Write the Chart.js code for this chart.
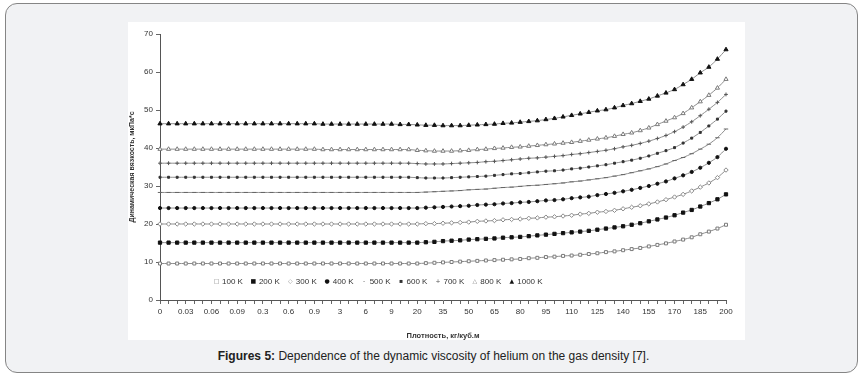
<!DOCTYPE html>
<html>
<head>
<meta charset="utf-8">
<script src="https://cdn.jsdelivr.net/npm/chart.js@4.4.1/dist/chart.umd.min.js"></script>
<style>
    body {
        margin: 0;
        width: 867px;
        height: 380px;
        background: #fff;
        overflow: hidden;
        font-family: "Liberation Sans", Arial, sans-serif;
    }
    .frame {
        position: absolute;
        left: 5px;
        top: 3px;
        width: 853px;
        height: 370px;
        box-sizing: border-box;
        border: 1.5px solid #858585;
        border-radius: 12px;
        background: #f1f2f4;
    }
    .panel {
        position: absolute;
        left: 128px;
        top: 22px;
        width: 617px;
        height: 318px;
        background: #fff;
    }
    #mainChart {
        display: block;
    }
    .legend {
        position: absolute;
        left: 85px;
        top: 255px;
        display: flex;
        gap: 7px;
        font-size: 8px;
        color: #333;
        white-space: nowrap;
    }
    .legend span.mark {
        display: inline-block;
        width: 7px;
        font-size: 6px;
        text-align: center;
        margin-right: 2px;
        vertical-align: 1px;
        font-family: "DejaVu Sans", sans-serif;
    }
    .caption {
        position: absolute;
        left: 0;
        top: 349px;
        width: 867px;
        text-align: center;
        font-size: 12px;
        color: #222;
    }
</style>
</head>
<body>
<div class="frame"></div>
<div class="panel">
    <canvas id="mainChart" width="617" height="318"></canvas>
    <div class="legend" id="legend"></div>
</div>
<div class="caption"><b>Figures 5:</b> Dependence of the dynamic viscosity of helium on the gas density [7].</div>

<script>
// Density categories, kg/m3
const densities = [
    0, 0.01, 0.02, 0.03, 0.04, 0.05, 0.06, 0.07, 0.08, 0.09,
    0.1, 0.2, 0.3, 0.4, 0.5, 0.6, 0.7, 0.8, 0.9,
    1, 2, 3, 4, 5, 6, 7, 8, 9,
    10, 15, 20, 25, 30, 35, 40, 45, 50, 55, 60, 65, 70, 75, 80, 85, 90, 95,
    100, 105, 110, 115, 120, 125, 130, 135, 140, 145, 150, 155, 160, 165, 170,
    175, 180, 185, 190, 195, 200
];

const yTicks = [0, 10, 20, 30, 40, 50, 60, 70];

const seriesNames = ['100 K', '200 K', '300 K', '400 K', '500 K', '600 K', '700 K', '800 K', '1000 K'];

// Viscosity, values
const visc100 = [
    9.6, 9.6, 9.6, 9.6, 9.6, 9.6, 9.6, 9.6, 9.6, 9.6,
    9.6, 9.6, 9.6, 9.6, 9.6, 9.6, 9.6, 9.6, 9.6, 9.6,
    9.6, 9.6, 9.6, 9.6, 9.6, 9.6, 9.6, 9.6, 9.6, 9.6,
    9.6, 9.7, 9.8, 9.9, 10.0, 10.1, 10.2, 10.3, 10.4, 10.5,
    10.6, 10.7, 10.8, 11.0, 11.1, 11.3, 11.4, 11.6, 11.7, 11.9,
    12.1, 12.3, 12.6, 12.8, 13.1, 13.4, 13.7, 14.1, 14.5, 14.9,
    15.4, 15.9, 16.5, 17.3, 18.0, 18.8, 19.8
];
const visc200 = [
    15.1, 15.1, 15.1, 15.1, 15.1, 15.1, 15.1, 15.1, 15.1, 15.1,
    15.1, 15.1, 15.1, 15.1, 15.1, 15.1, 15.1, 15.1, 15.1, 15.1,
    15.1, 15.1, 15.1, 15.1, 15.1, 15.1, 15.1, 15.1, 15.1, 15.1,
    15.1, 15.2, 15.3, 15.5, 15.6, 15.7, 15.9, 16.0, 16.1, 16.2,
    16.4, 16.5, 16.6, 16.8, 17.0, 17.2, 17.4, 17.6, 17.8, 18.0,
    18.2, 18.5, 18.8, 19.1, 19.4, 19.8, 20.2, 20.7, 21.2, 21.7,
    22.3, 23.0, 23.7, 24.6, 25.5, 26.5, 27.8
];
const visc300 = [
    20.0, 20.0, 20.0, 20.0, 20.0, 20.0, 20.0, 20.0, 20.0, 20.0,
    20.0, 20.0, 20.0, 20.0, 20.0, 20.0, 20.0, 20.0, 20.0, 20.0,
    20.0, 20.0, 20.0, 20.0, 20.0, 20.0, 20.0, 20.0, 20.0, 20.0,
    20.0, 20.1, 20.1, 20.2, 20.3, 20.4, 20.5, 20.7, 20.8, 20.9,
    21.1, 21.2, 21.3, 21.5, 21.6, 21.8, 21.9, 22.1, 22.3, 22.6,
    22.8, 23.1, 23.3, 23.6, 24.0, 24.4, 24.8, 25.3, 25.8, 26.4,
    27.1, 27.8, 28.7, 29.7, 30.8, 32.2, 34.2
];
const visc400 = [
    24.2, 24.2, 24.2, 24.2, 24.2, 24.2, 24.2, 24.2, 24.2, 24.2,
    24.2, 24.2, 24.2, 24.2, 24.2, 24.2, 24.2, 24.2, 24.2, 24.2,
    24.2, 24.2, 24.2, 24.2, 24.2, 24.2, 24.2, 24.2, 24.2, 24.2,
    24.2, 24.3, 24.4, 24.5, 24.6, 24.7, 24.8, 25.0, 25.1, 25.2,
    25.4, 25.5, 25.7, 25.8, 26.0, 26.2, 26.3, 26.5, 26.8, 27.0,
    27.2, 27.6, 27.9, 28.2, 28.6, 29.0, 29.5, 30.0, 30.6, 31.2,
    32.0, 32.8, 33.7, 34.8, 36.1, 37.6, 39.8
];
const visc500 = [
    28.3, 28.3, 28.3, 28.3, 28.3, 28.3, 28.3, 28.3, 28.3, 28.3,
    28.3, 28.3, 28.3, 28.3, 28.3, 28.3, 28.3, 28.3, 28.3, 28.3,
    28.3, 28.3, 28.3, 28.3, 28.3, 28.3, 28.3, 28.3, 28.3, 28.3,
    28.3, 28.4, 28.5, 28.6, 28.7, 28.8, 29.0, 29.1, 29.2, 29.4,
    29.6, 29.7, 29.9, 30.1, 30.2, 30.4, 30.6, 30.8, 31.1, 31.3,
    31.6, 31.9, 32.2, 32.6, 33.0, 33.5, 34.0, 34.5, 35.1, 35.8,
    36.7, 37.5, 38.5, 39.7, 41.0, 42.7, 45.0
];
const visc600 = [
    32.3, 32.3, 32.3, 32.3, 32.3, 32.3, 32.3, 32.3, 32.3, 32.3,
    32.3, 32.3, 32.3, 32.3, 32.3, 32.3, 32.3, 32.3, 32.3, 32.3,
    32.3, 32.3, 32.3, 32.3, 32.3, 32.3, 32.3, 32.3, 32.3, 32.3,
    32.2, 32.1, 32.1, 32.1, 32.2, 32.3, 32.4, 32.5, 32.6, 32.8,
    33.0, 33.2, 33.3, 33.5, 33.7, 33.9, 34.0, 34.2, 34.5, 34.7,
    35.0, 35.3, 35.6, 36.0, 36.4, 36.8, 37.3, 37.9, 38.6, 39.3,
    40.1, 41.3, 42.6, 44.1, 45.8, 47.6, 49.7
];
const visc700 = [
    36.0, 36.0, 36.0, 36.0, 36.0, 36.0, 36.0, 36.0, 36.0, 36.0,
    36.0, 36.0, 36.0, 36.0, 36.0, 36.0, 36.0, 36.0, 36.0, 36.0,
    36.0, 36.0, 36.0, 36.0, 36.0, 36.0, 36.0, 36.0, 36.0, 36.0,
    35.9, 35.8, 35.8, 35.8, 35.9, 36.0, 36.1, 36.2, 36.4, 36.5,
    36.7, 36.9, 37.1, 37.3, 37.4, 37.6, 37.8, 38.0, 38.3, 38.5,
    38.8, 39.1, 39.4, 39.8, 40.3, 40.7, 41.2, 41.8, 42.5, 43.3,
    44.3, 45.5, 46.9, 48.5, 50.2, 52.0, 54.1
];
const visc800 = [
    39.7, 39.7, 39.7, 39.7, 39.7, 39.7, 39.7, 39.7, 39.7, 39.7,
    39.7, 39.7, 39.7, 39.7, 39.7, 39.7, 39.7, 39.7, 39.7, 39.6,
    39.6, 39.6, 39.6, 39.6, 39.6, 39.6, 39.6, 39.6, 39.6, 39.6,
    39.4, 39.3, 39.2, 39.2, 39.2, 39.3, 39.4, 39.6, 39.7, 39.9,
    40.0, 40.2, 40.3, 40.5, 40.7, 40.9, 41.1, 41.3, 41.5, 41.8,
    42.1, 42.4, 42.7, 43.1, 43.6, 44.0, 44.6, 45.3, 46.2, 47.1,
    48.0, 49.1, 50.6, 52.2, 53.9, 55.8, 58.1
];
const visc1000 = [
    46.4, 46.4, 46.4, 46.4, 46.4, 46.4, 46.4, 46.4, 46.4, 46.4,
    46.4, 46.4, 46.4, 46.4, 46.4, 46.4, 46.4, 46.4, 46.4, 46.3,
    46.3, 46.3, 46.3, 46.3, 46.3, 46.3, 46.3, 46.3, 46.2, 46.2,
    46.1, 46.0, 46.0, 45.9, 45.9, 45.9, 46.0, 46.1, 46.2, 46.3,
    46.5, 46.6, 46.8, 47.0, 47.2, 47.5, 47.8, 48.2, 48.6, 49.0,
    49.4, 49.8, 50.1, 50.6, 51.2, 51.7, 52.3, 52.9, 53.7, 54.5,
    55.4, 56.7, 58.1, 59.8, 61.3, 63.4, 65.9
];

const seriesValues = [visc100, visc200, visc300, visc400, visc500, visc600, visc700, visc800, visc1000];

// Marker styles for each temperature
const markers = [
    { style: 'rect',     radius: 2.1, fill: '#fff', stroke: '#7a7a7a', glyph: '\u25A1' },
    { style: 'rect',     radius: 2.3, fill: '#111', stroke: '#111', glyph: '\u25A0' },
    { style: 'rectRot',  radius: 2.2, fill: '#fff', stroke: '#8a8a8a', glyph: '\u25C7' },
    { style: 'circle',   radius: 1.6, fill: '#111', stroke: '#111', glyph: '\u25CF' },
    { style: 'line',     radius: 2.2, fill: '#666', stroke: '#666', glyph: '-' },
    { style: 'rect',     radius: 1.4, fill: '#333', stroke: '#333', glyph: '\u25AA' },
    { style: 'cross',    radius: 1.9, fill: '#555', stroke: '#555', glyph: '+' },
    { style: 'triangle', radius: 2.4, fill: '#fff', stroke: '#7a7a7a', glyph: '\u25B3' },
    { style: 'triangle', radius: 2.4, fill: '#111', stroke: '#111', glyph: '\u25B2' }
];

const fontFamily = '"Liberation Sans", Arial, sans-serif';

const datasets = seriesNames.map((name, i) => ({
    label: name,
    data: seriesValues[i],
    borderColor: '#8d8d8d',
    borderWidth: 1,
    tension: 0.2,
    fill: false,
    pointStyle: markers[i].style,
    pointRadius: markers[i].radius,
    pointBackgroundColor: markers[i].fill,
    pointBorderColor: markers[i].stroke,
    pointBorderWidth: 1
}));

const ctx = document.getElementById('mainChart');
new Chart(ctx, {
    type: 'line',
    data: {
        labels: densities,
        datasets: datasets
    },
    options: {
        responsive: false,
        animation: false,
        layout: {
            padding: { top: 12, right: 19, left: 0, bottom: 0 }
        },
        plugins: {
            legend: { display: false },
            tooltip: { enabled: false }
        },
        scales: {
            x: {
                offset: false,
                grid: {
                    drawOnChartArea: false,
                    tickLength: 4,
                    color: '#666'
                },
                border: { color: '#555' },
                ticks: {
                    autoSkip: false,
                    maxRotation: 0,
                    padding: 3,
                    color: '#333',
                    font: { size: 8, family: fontFamily },
                    callback: (value, index) => index % 3 === 0 ? String(densities[index]) : ''
                },
                title: {
                    display: true,
                    text: 'Плотность, кг/куб.м',
                    color: '#333',
                    font: { size: 7.5, weight: 'bold', family: fontFamily },
                    padding: { top: 10, bottom: 0 }
                },
                afterFit: (scale) => { scale.height = 40; }
            },
            y: {
                min: 0,
                max: 70,
                grid: {
                    drawOnChartArea: false,
                    tickLength: 4,
                    color: '#666'
                },
                border: { color: '#555' },
                afterBuildTicks: (scale) => {
                    scale.ticks = yTicks.map(v => ({ value: v }));
                },
                ticks: {
                    padding: 3,
                    color: '#333',
                    font: { size: 8, family: fontFamily }
                },
                title: {
                    display: true,
                    text: 'Динамическая вязкость, мкПа*с',
                    color: '#333',
                    font: { size: 7, weight: 'bold', family: fontFamily },
                    padding: 0
                },
                afterFit: (scale) => { scale.width = 32; }
            }
        }
    }
});

// Legend inside the plot, bottom
const legendBox = document.getElementById('legend');
seriesNames.forEach((name, i) => {
    const item = document.createElement('div');
    const mark = document.createElement('span');
    mark.className = 'mark';
    mark.textContent = markers[i].glyph;
    mark.style.color = markers[i].fill === '#fff' ? markers[i].stroke : markers[i].fill;
    item.appendChild(mark);
    item.appendChild(document.createTextNode(name));
    legendBox.appendChild(item);
});
</script>
</body>
</html>
